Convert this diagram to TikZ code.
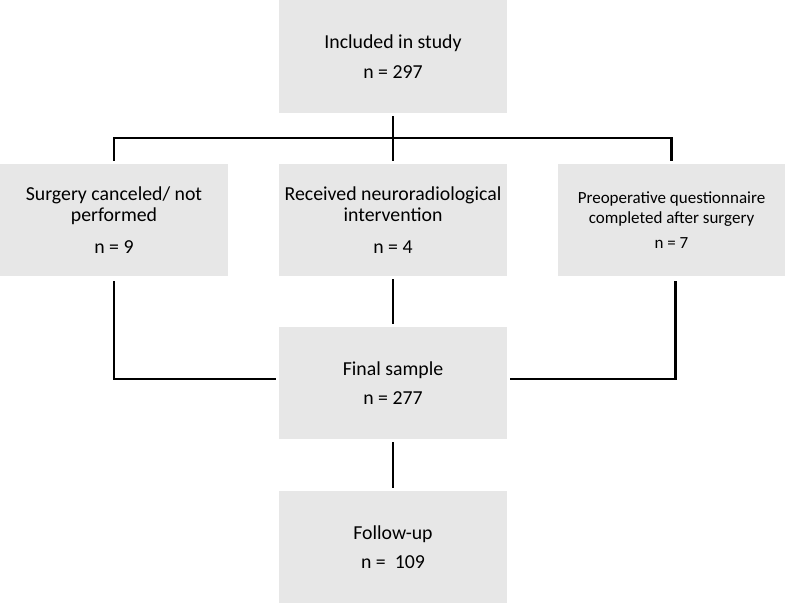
\documentclass[tikz,border=0pt]{standalone}
\usepackage{fontspec}
\setmainfont{Carlito}
\usepackage{xcolor}
\usetikzlibrary{positioning}
\definecolor{boxgray}{RGB}{231,231,231}

\begin{document}
\begin{tikzpicture}[
    x=1pt,
    y=-1pt,
    every node/.style={font=\fontsize{19.8}{21.5}\selectfont},
    stagebox/.style={fill=boxgray, minimum width=228pt, minimum height=112pt, inner sep=0pt, align=center},
    smallbox/.style={stagebox, font=\fontsize{17}{20}\selectfont},
    link/.style={line width=2.2pt},
    gap/.style={shorten <=3pt, shorten >=3pt}
  ]
  \useasboundingbox (0,0) rectangle (786,604);
  %
  \node[stagebox, minimum height=113pt] (incl) at (393,56.5) {Included in study\\[8pt]n = 297};
  \node[stagebox] (cancel) at (114,220) {Surgery canceled/ not\\performed\\[10pt]n = 9};
  \node[stagebox] (neuro) at (393,220) {Received neuroradiological\\intervention\\[10pt]n = 4};
  \node[smallbox, minimum width=227pt] (preop) at (671.5,220) {Preoperative questionnaire\\completed after surgery\\[5pt]n = 7};
  \node[stagebox] (final) at (393,383) {Final sample\\[8pt]n = 277};
  \node[stagebox] (follow) at (393,547) {Follow-up\\[8pt]n = \ 109};

  %
  \coordinate (split) at (393,138);
  \draw[link, gap] (incl) -- (neuro);
  \draw[link, gap] (cancel) |- (split) -| (preop);

  %
  \draw[link, shorten <=5pt, shorten >=3pt] (cancel) |- ([yshift=4pt]final.west);
  \draw[link, shorten <=5pt, shorten >=3pt] ([xshift=4pt]preop.south) |- ([yshift=4pt]final.east);
  \draw[link, gap] (neuro) -- (final);
  \draw[link, gap] (final) -- (follow);
\end{tikzpicture}
\end{document}
